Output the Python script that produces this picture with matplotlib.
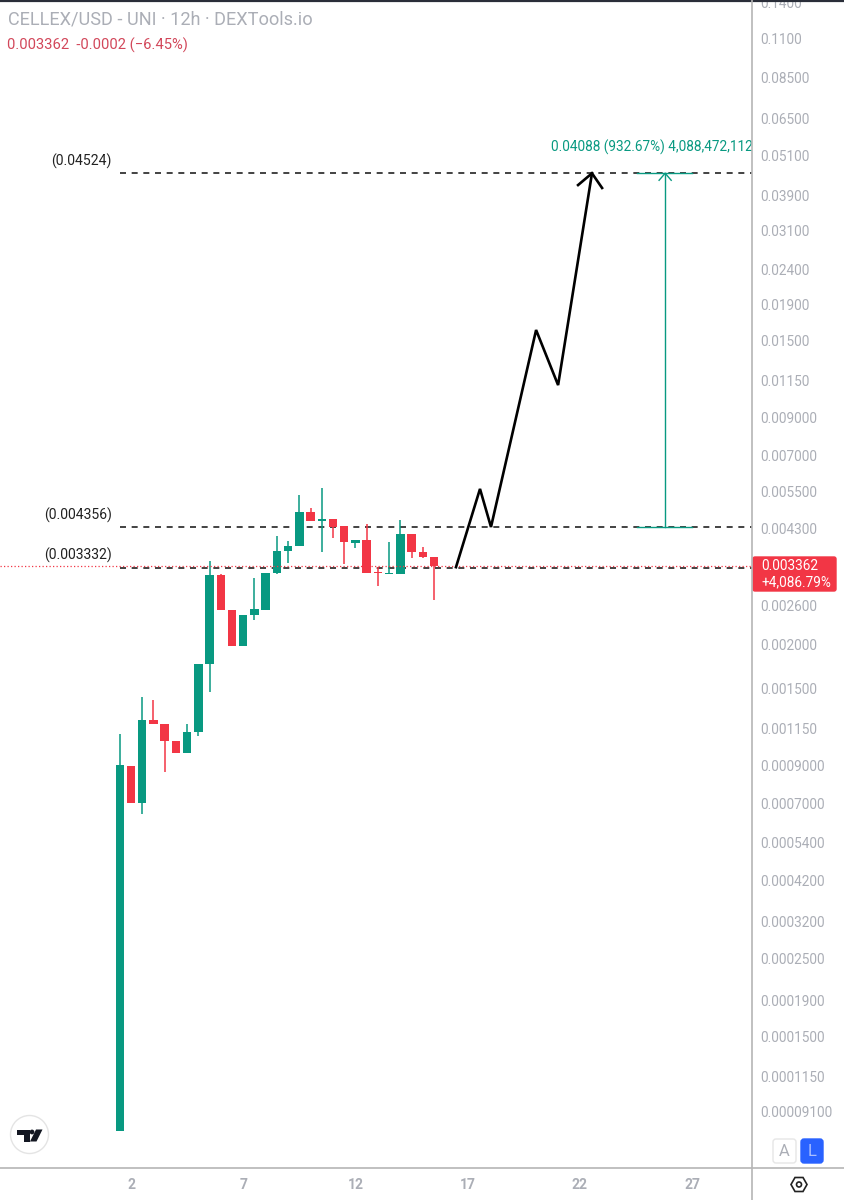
import matplotlib
matplotlib.use("Agg")
import matplotlib.pyplot as plt
from matplotlib.patches import FancyBboxPatch, Circle, Polygon

plt.rcParams['font.family'] = ['Roboto', 'DejaVu Sans']

# ---- data (12h candles, x in days of the month) ----
days = [1.5, 2.0, 2.5, 3.0, 3.5, 4.0, 4.5, 5.0, 5.5, 6.0, 6.5, 7.0, 7.5, 8.0, 8.5,
        9.0, 9.5, 10.0, 10.5, 11.0, 11.5, 12.0, 12.5, 13.0, 13.5, 14.0, 14.5, 15.0, 15.5]
opens = [0.0000801, 0.000895, 0.000700, 0.001214, 0.001182, 0.001056, 0.000976, 0.001121, 0.001758,
         0.003168, 0.002513, 0.001980, 0.002431, 0.002513, 0.003210, 0.003713, 0.003838, 0.004806,
         0.004528, 0.004588, 0.004381, 0.003915, 0.003993, 0.003231, 0.003189, 0.003189, 0.004155,
         0.003688, 0.003568]
closes = [0.000901, 0.000700, 0.001214, 0.001182, 0.001056, 0.000976, 0.001121, 0.001758, 0.003168,
          0.002513, 0.001980, 0.002431, 0.002530, 0.003210, 0.003713, 0.003838, 0.004806, 0.004528,
          0.004588, 0.004352, 0.003941, 0.003993, 0.003210, 0.003210, 0.003210, 0.004155, 0.003688,
          0.003568, 0.003362]
highs = [0.001106, 0.000895, 0.001413, 0.001385, 0.001182, 0.000976, 0.001182, 0.001758, 0.003475,
         0.003190, 0.002513, 0.002431, 0.003106, 0.003210, 0.004100, 0.003967, 0.005378, 0.004935,
         0.005633, 0.004588, 0.004381, 0.003993, 0.004439, 0.003340, 0.003941, 0.004558, 0.004155,
         0.003812, 0.003568]
lows = [0.0000801, 0.000700, 0.000652, 0.001182, 0.000860, 0.000976, 0.000976, 0.001092, 0.001461,
        0.002513, 0.001980, 0.001980, 0.002352, 0.002513, 0.003189, 0.003430, 0.003838, 0.004528,
        0.003688, 0.004046, 0.003407, 0.003787, 0.003210, 0.002945, 0.003189, 0.003189, 0.003545,
        0.003545, 0.002685]

path_x = [16.48, 17.55, 18.04, 20.05, 21.03, 22.54]
path_y = [0.00334, 0.005605, 0.004356, 0.01604, 0.01114, 0.04524]
head_x = [21.92, 22.54, 22.99]
head_y = [0.04185, 0.04524, 0.04105]

level_prices = [0.04524, 0.004356, 0.003332]
level_labels = ['(0.04524)', '(0.004356)', '(0.003332)']
last_price = 0.003362

measure_x = [24.55, 27.0]
measure_mid = 25.8
measure_lo, measure_hi = 0.004356, 0.04524
measure_barb_x = [25.53, 25.8, 26.07]
measure_barb_y = [0.04319, 0.04524, 0.04319]

y_ticks = [0.14, 0.11, 0.085, 0.065, 0.051, 0.039, 0.031, 0.024, 0.019, 0.015, 0.0115, 0.009,
           0.007, 0.0055, 0.0043, 0.0026, 0.002, 0.0015, 0.00115, 0.0009, 0.0007, 0.00054,
           0.00042, 0.00032, 0.00025, 0.00019, 0.00015, 0.000115, 0.000091]
y_tick_labels = ['0.1400', '0.1100', '0.08500', '0.06500', '0.05100', '0.03900', '0.03100', '0.02400',
                 '0.01900', '0.01500', '0.01150', '0.009000', '0.007000', '0.005500', '0.004300',
                 '0.002600', '0.002000', '0.001500', '0.001150', '0.0009000', '0.0007000', '0.0005400',
                 '0.0004200', '0.0003200', '0.0002500', '0.0001900', '0.0001500', '0.0001150', '0.00009100']
x_ticks = [2, 7, 12, 17, 22, 27]

GREEN = '#089981'
RED = '#F23645'
GRAY = '#ABAEB6'
W, H = 845, 1200

fig = plt.figure(figsize=(W / 100, H / 100), dpi=100, facecolor='white')
ax = fig.add_axes([0, 1 - 1168 / H, 752 / W, (1168 - 2) / H])
ax.set_yscale('log')
ax.set_xlim(-3.838, 29.67)
ax.set_ylim(6.27e-5, 0.1405)

for x, o, c, h, l in zip(days, opens, closes, highs, lows):
    col = GREEN if c >= o else RED
    ax.vlines(x, l, h, color=col, lw=1.1, zorder=3)
    ax.bar(x, abs(c - o), bottom=min(o, c), width=0.375, color=col, lw=0, zorder=4)

# levels
for p in level_prices:
    ax.plot([1.5, 29.67], [p, p], color='#222222', lw=1.2, dashes=(3.6, 3.4), zorder=2)
ax.axhline(last_price, color=RED, lw=0.9, ls=(0, (1, 1.8)), zorder=5)
for p, t in zip(level_prices, level_labels):
    ax.annotate(t, (1.32, p), xytext=(-3, 3), textcoords='offset points', ha='right', va='bottom',
                fontsize=10.1, color='#222222')

# drawn path
ax.plot(path_x, path_y, color='black', lw=1.9, solid_joinstyle='miter', zorder=6)
ax.plot(head_x, head_y, color='black', lw=1.9, solid_joinstyle='miter', zorder=6)

# measure tool
ax.plot(measure_x, [measure_hi] * 2, color=GREEN, lw=1.0, zorder=6)
ax.plot(measure_x, [measure_lo] * 2, color=GREEN, lw=1.0, zorder=6)
ax.plot([measure_mid] * 2, [measure_lo, measure_hi], color=GREEN, lw=1.0, zorder=6)
ax.plot(measure_barb_x, measure_barb_y, color=GREEN, lw=1.0, zorder=6)
ax.annotate('0.04088 (932.67%) 4,088,472,112', (measure_mid, measure_hi), xytext=(-82, 13),
            textcoords='offset points', ha='left', va='bottom', fontsize=9.8, color=GREEN,
            annotation_clip=False, clip_on=True)

# axes
ax.yaxis.tick_right()
ax.set_yticks(y_ticks, y_tick_labels)
ax.minorticks_off()
ax.set_xticks(x_ticks, [str(v) for v in x_ticks])
ax.tick_params(axis='y', length=0, pad=6, labelsize=9.8, labelcolor=GRAY)
ax.tick_params(axis='x', length=0, pad=7.5, labelsize=10, labelcolor=GRAY)
for lab in ax.get_xticklabels():
    lab.set_fontweight('bold')
for s in ['top', 'left', 'right', 'bottom']:
    ax.spines[s].set_visible(False)

# overlay in pixel coordinates for chrome
ov = fig.add_axes([0, 0, 1, 1], zorder=10)
ov.set_xlim(0, W)
ov.set_ylim(H, 0)
ov.axis('off')
ov.patch.set_alpha(0)
ov.plot([0, W], [1, 1], color='#2A2E39', lw=1.6)
ov.plot([752, 752], [0, H], color='#B5B5B5', lw=1.2)
ov.plot([0, W], [1168, 1168], color='#B5B5B5', lw=1.2)

ov.text(8, 19, 'CELLEX/USD - UNI · 12h · DEXTools.io', fontsize=13.1, color=GRAY, va='center', ha='left')
ov.text(7, 45, '0.003362  -0.0002 (−6.45%)', fontsize=10.6, color='#D2475A', va='center', ha='left')

ov.add_patch(FancyBboxPatch((753, 557), 83, 34, boxstyle='round,pad=0,rounding_size=2',
                            fc=RED, ec=RED, lw=1))
ov.text(761, 566, '0.003362', color='white', fontsize=9.8, va='center', ha='left')
ov.text(761, 582, '+4,086.79%', color='white', fontsize=9.8, va='center', ha='left')

# A / L buttons
ov.add_patch(FancyBboxPatch((773, 1139), 23, 24, boxstyle='round,pad=0,rounding_size=3',
                            fc='white', ec='#E6E6E6', lw=1))
ov.text(784.5, 1151, 'A', color=GRAY, fontsize=12, ha='center', va='center')
ov.add_patch(FancyBboxPatch((801, 1139), 22, 24, boxstyle='round,pad=0,rounding_size=3',
                            fc='#2962FF', ec='#2962FF', lw=1))
ov.text(812, 1151, 'L', color='#A9BFFF', fontsize=12, ha='center', va='center')

# settings hexagon
ov.add_patch(Polygon([(791, 1184.5), (795, 1177.5), (803, 1177.5), (807, 1184.5), (803, 1191.5), (795, 1191.5)],
                     closed=True, fc='none', ec='#222222', lw=1.2))
ov.add_patch(Circle((799, 1184.5), 2.5, fc='none', ec='#222222', lw=1.2))

# logo badge
ov.add_patch(Circle((29.5, 1134.5), 19, fc='white', ec='#E4E4E4', lw=1))
ov.add_patch(Polygon([(17.5, 1129.5), (30, 1129.5), (30, 1141.5), (24, 1141.5), (24, 1134.5), (17.5, 1134.5)],
                     closed=True, fc='#131722', ec='none'))
ov.add_patch(Circle((32, 1132), 2.4, fc='#131722', ec='none'))
ov.add_patch(Polygon([(36, 1129.5), (42.5, 1129.5), (36.5, 1141.5), (30, 1141.5)], closed=True, fc='#131722', ec='none'))

fig.savefig('out.png', dpi=100, facecolor='white')
